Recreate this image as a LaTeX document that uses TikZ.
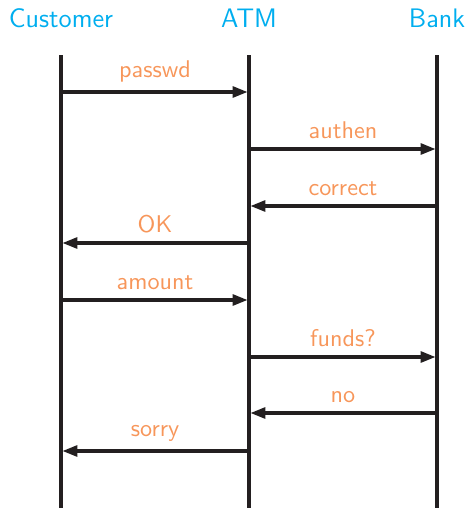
\documentclass[tikz,border=0pt]{standalone}
\usetikzlibrary{arrows.meta}
\definecolor{hdr}{RGB}{0,174,239}
\definecolor{lbl}{RGB}{247,150,90}
\definecolor{ink}{RGB}{35,31,32}
\begin{document}
\begin{tikzpicture}[x=0.4219pt,y=-0.4219pt,
  header/.style={text=hdr,font=\sffamily\fontsize{11.3}{13}\selectfont,anchor=base,inner sep=0pt},
  lifeline/.style={draw=ink,line width=1.3pt},
  msg/.style={draw=ink,line width=1.3pt,-{Triangle[length=6.3pt,width=4.6pt]},shorten >=0.6pt},
  msglabel/.style={text=lbl,font=\sffamily\fontsize{10.2}{12}\selectfont,above,inner xsep=0pt,inner ysep=3.5pt}]
\useasboundingbox (0,0) rectangle (471,508);
% headers
\node[header] (C) at (61,27) {Customer};
\node[header] (A) at (249,27) {ATM};
\node[header] (B) at (437,27) {Bank};
% lifelines
\coordinate (Ct) at (61,55);  \coordinate (Cb) at (61,508);
\coordinate (At) at (249,55); \coordinate (Ab) at (249,508);
\coordinate (Bt) at (437,55); \coordinate (Bb) at (437,508);
\draw[lifeline] (Ct) -- (Cb);
\draw[lifeline] (At) -- (Ab);
\draw[lifeline] (Bt) -- (Bb);
% message points
\foreach \n/\y in {1/92,2/149,3/206,4/243,5/300,6/357,7/413,8/451}{
  \coordinate (c\n) at (61,\y);
  \coordinate (a\n) at (249,\y);
  \coordinate (b\n) at (437,\y);
}
\draw[msg] (c1) -- node[msglabel] (m1) {passwd} (a1);
\draw[msg] (a2) -- node[msglabel] (m2) {authen} (b2);
\draw[msg] (b3) -- node[msglabel] (m3) {correct} (a3);
\draw[msg] (a4) -- node[msglabel] (m4) {OK} (c4);
\draw[msg] (c5) -- node[msglabel] (m5) {amount} (a5);
\draw[msg] (a6) -- node[msglabel] (m6) {funds?} (b6);
\draw[msg] (b7) -- node[msglabel] (m7) {no} (a7);
\draw[msg] (a8) -- node[msglabel] (m8) {sorry} (c8);
\end{tikzpicture}
\end{document}
